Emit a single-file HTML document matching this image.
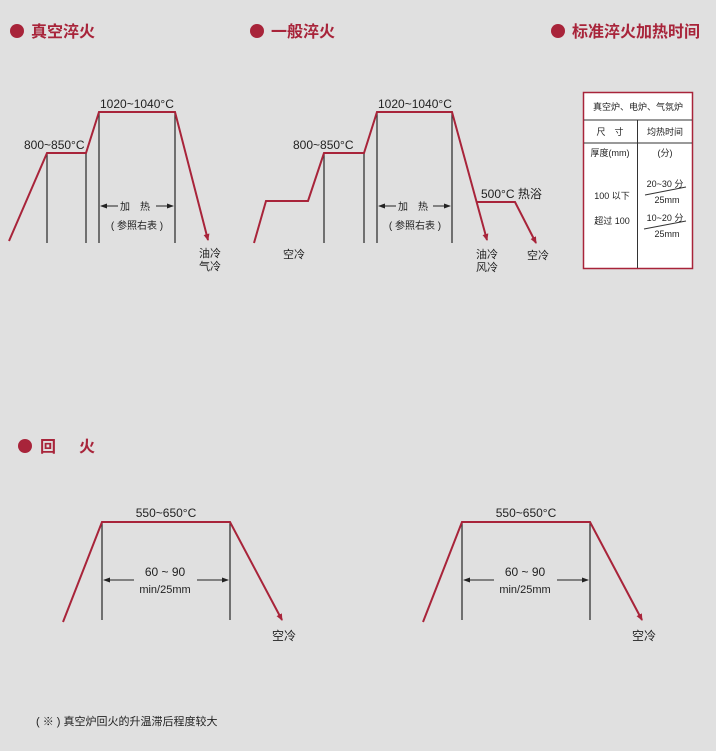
<!DOCTYPE html>
<html><head><meta charset="utf-8"><style>
html,body{margin:0;padding:0;background:#e0e0e0;}
svg{display:block;}
text{font-family:"Liberation Sans","Noto Sans CJK SC",sans-serif;fill:#222;}
.h{fill:#a8243a;font-size:16px;font-weight:bold;}
</style></head><body>
<svg width="716" height="751" viewBox="0 0 716 751" xmlns="http://www.w3.org/2000/svg">
<defs>
<marker id="ar" markerWidth="8" markerHeight="8" refX="6" refY="4" orient="auto" markerUnits="userSpaceOnUse"><path d="M0,1 L7,4 L0,7 Z" fill="#a8243a"/></marker>
<marker id="ab" markerWidth="8" markerHeight="8" refX="6" refY="3" orient="auto" markerUnits="userSpaceOnUse"><path d="M0,0.5 L7,3 L0,5.5 Z" fill="#222"/></marker>
</defs>
<rect width="716" height="751" fill="#e0e0e0"/>
<!-- headings -->
<circle cx="17" cy="31" r="7" fill="#a8243a"/><text class="h" x="31" y="37">真空淬火</text>
<circle cx="257" cy="31" r="7" fill="#a8243a"/><text class="h" x="271" y="37">一般淬火</text>
<circle cx="558" cy="31" r="7" fill="#a8243a"/><text class="h" x="572" y="37">标准淬火加热时间</text>
<circle cx="25" cy="446" r="7" fill="#a8243a"/><text class="h" x="40" y="452">回</text><text class="h" x="79" y="452">火</text>

<g stroke="#333" stroke-width="1.3" fill="none">
<line x1="47" y1="153" x2="47" y2="243"/><line x1="86" y1="153" x2="86" y2="243"/>
<line x1="99" y1="112" x2="99" y2="243"/><line x1="175" y1="112" x2="175" y2="243"/>
<line x1="324" y1="153" x2="324" y2="243"/><line x1="364" y1="153" x2="364" y2="243"/>
<line x1="377" y1="112" x2="377" y2="243"/><line x1="452" y1="112" x2="452" y2="243"/>
<line x1="102" y1="522" x2="102" y2="620"/><line x1="230" y1="522" x2="230" y2="620"/>
<line x1="462" y1="522" x2="462" y2="620"/><line x1="590" y1="522" x2="590" y2="620"/>
</g>
<g stroke="#222" stroke-width="1" fill="none">
<line x1="118" y1="206" x2="101" y2="206" marker-end="url(#ab)"/><line x1="156" y1="206" x2="173" y2="206" marker-end="url(#ab)"/>
<line x1="396" y1="206" x2="379" y2="206" marker-end="url(#ab)"/><line x1="433" y1="206" x2="450" y2="206" marker-end="url(#ab)"/>
<line x1="134" y1="580" x2="104" y2="580" marker-end="url(#ab)"/><line x1="197" y1="580" x2="228" y2="580" marker-end="url(#ab)"/>
<line x1="494" y1="580" x2="464" y2="580" marker-end="url(#ab)"/><line x1="557" y1="580" x2="588" y2="580" marker-end="url(#ab)"/>
</g>
<g stroke="#a8243a" stroke-width="2" fill="none">
<polyline points="9,241 47,153 86,153 99,112 175,112 208,240" marker-end="url(#ar)"/>
<polyline points="254,243 266,201 308,201 324,153 364,153 377,112 452,112 487,240" marker-end="url(#ar)"/>
<polyline points="476,202 515,202 536,243" marker-end="url(#ar)"/>
<polyline points="63,622 102,522 230,522 282,620" marker-end="url(#ar)"/>
<polyline points="423,622 462,522 590,522 642,620" marker-end="url(#ar)"/>
</g>
<g font-size="12">
<text x="24" y="149">800~850°C</text>
<text x="100" y="108">1020~1040°C</text>
<text x="120" y="210" font-size="10">加</text><text x="140" y="210" font-size="10">热</text>
<text x="137" y="229" font-size="10" text-anchor="middle">( 参照右表 )</text>
<text x="199" y="257" font-size="11">油冷</text><text x="199" y="270" font-size="11">气冷</text>

<text x="293" y="149">800~850°C</text>
<text x="378" y="108">1020~1040°C</text>
<text x="398" y="210" font-size="10">加</text><text x="418" y="210" font-size="10">热</text>
<text x="415" y="229" font-size="10" text-anchor="middle">( 参照右表 )</text>
<text x="283" y="258" font-size="11">空冷</text>
<text x="481" y="198">500°C 热浴</text>
<text x="476" y="258" font-size="11">油冷</text><text x="476" y="271" font-size="11">风冷</text>
<text x="527" y="259" font-size="11">空冷</text>

<text x="166" y="517" text-anchor="middle">550~650°C</text>
<text x="165" y="576" text-anchor="middle">60 ~ 90</text>
<text x="165" y="593" text-anchor="middle" font-size="11">min/25mm</text>
<text x="272" y="640">空冷</text>
<text x="526" y="517" text-anchor="middle">550~650°C</text>
<text x="525" y="576" text-anchor="middle">60 ~ 90</text>
<text x="525" y="593" text-anchor="middle" font-size="11">min/25mm</text>
<text x="632" y="640">空冷</text>
</g>
<!-- table -->
<rect x="583.5" y="92.5" width="109" height="176" fill="#fff" stroke="#a8243a" stroke-width="1.5"/>
<g stroke="#333" stroke-width="1"><line x1="584" y1="120" x2="692" y2="120"/><line x1="584" y1="143" x2="692" y2="143"/><line x1="637.5" y1="120" x2="637.5" y2="268"/>
<line x1="645" y1="195" x2="686" y2="187"/><line x1="644" y1="229" x2="686" y2="221"/></g>
<g font-size="9">
<text x="638" y="110" text-anchor="middle">真空炉、电炉、气氛炉</text>
<text x="610" y="135" text-anchor="middle">尺　寸</text>
<text x="665" y="135" text-anchor="middle">均热时间</text>
<text x="610" y="156" text-anchor="middle">厚度(mm)</text>
<text x="665" y="156" text-anchor="middle">(分)</text>
<text x="612" y="199" text-anchor="middle">100 以下</text>
<text x="612" y="224" text-anchor="middle">超过 100</text>
<text x="665" y="187" text-anchor="middle">20~30 分</text>
<text x="667" y="203" text-anchor="middle">25mm</text>
<text x="665" y="221" text-anchor="middle">10~20 分</text>
<text x="667" y="237" text-anchor="middle">25mm</text>
</g>
<text x="36" y="725" font-size="11">( ※ ) 真空炉回火的升温滞后程度较大</text>
</svg>
</body></html>
